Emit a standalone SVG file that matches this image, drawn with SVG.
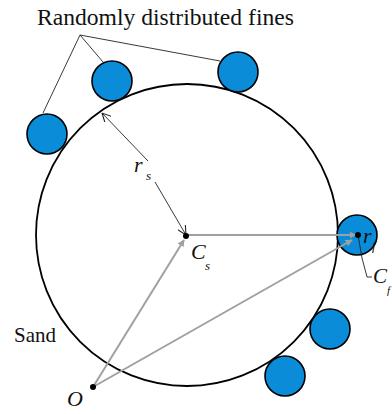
<svg xmlns="http://www.w3.org/2000/svg" width="392" height="414" viewBox="0 0 392 414">
<style>
.fine{fill:#0a8cd8;stroke:#000;stroke-width:1.6}
.sand{fill:none;stroke:#000;stroke-width:1.8}
.lead{stroke:#222;stroke-width:0.9;fill:none}
.g{stroke:#a0a0a0;stroke-width:2;fill:none}
text{font-family:'Liberation Serif','Times New Roman','DejaVu Serif',serif;fill:#111}
.i{font-style:italic}
</style>
<defs>
<marker id="ga" viewBox="0 0 10 10" refX="9" refY="5" markerWidth="7" markerHeight="7" markerUnits="userSpaceOnUse" orient="auto"><path d="M0,0 L10,5 L0,10 Z" fill="#a0a0a0"/></marker>
<marker id="oa" viewBox="0 0 10 10" refX="10" refY="5" markerWidth="9" markerHeight="9" markerUnits="userSpaceOnUse" orient="auto"><path d="M0,0 L10,5 L0,10" fill="none" stroke="#222" stroke-width="1.2"/></marker>
</defs>
<g id="title"><text x="37" y="25" font-size="23.6">Randomly distributed fines</text></g>
<g id="sand"><circle class="sand" cx="187" cy="235" r="151"/><text x="14" y="342" font-size="21">Sand</text></g>
<g id="fine1"><circle class="fine" cx="47" cy="134" r="20"/></g>
<g id="fine2"><circle class="fine" cx="112" cy="81" r="20"/></g>
<g id="fine3"><circle class="fine" cx="238" cy="72" r="20"/></g>
<g id="fine4"><circle class="fine" cx="357" cy="235" r="20"/></g>
<g id="fine5"><circle class="fine" cx="330" cy="329" r="20"/></g>
<g id="fine6"><circle class="fine" cx="285" cy="376" r="20"/></g>
<g id="connectors">
<path class="lead" d="M80,35 L43,113 M80,35 L103,62 M80,35 L220,61"/>
<path class="lead" d="M148,161 L102,113" marker-end="url(#oa)"/>
<path class="lead" d="M155,182 L186,235" marker-end="url(#oa)"/>
<path class="g" d="M186,235 L356,235" marker-end="url(#ga)"/>
<path class="g" d="M93,387 L184,240" marker-end="url(#ga)"/>
<path class="g" d="M93,387 L352,240" marker-end="url(#ga)"/>
<path class="lead" d="M358,235 L362,258 L367,277 L372,277"/>
</g>
<g id="cs"><circle cx="186" cy="236" r="3" fill="#000"/><text class="i" x="191" y="259" font-size="22">C</text><text class="i" x="205" y="270" font-size="13">s</text></g>
<g id="rs"><text class="i" x="134" y="172" font-size="22">r</text><text class="i" x="146" y="180" font-size="13">s</text></g>
<g id="cf"><circle cx="358" cy="235" r="3" fill="#000"/><text class="i" x="363" y="243" font-size="22">r</text><text class="i" x="372" y="250" font-size="13">f</text><text class="i" x="373" y="283" font-size="21">C</text><text class="i" x="387" y="294" font-size="11">f</text></g>
<g id="o"><circle cx="93" cy="387" r="3" fill="#000"/><text class="i" x="67" y="406" font-size="22">O</text></g>
</svg>
